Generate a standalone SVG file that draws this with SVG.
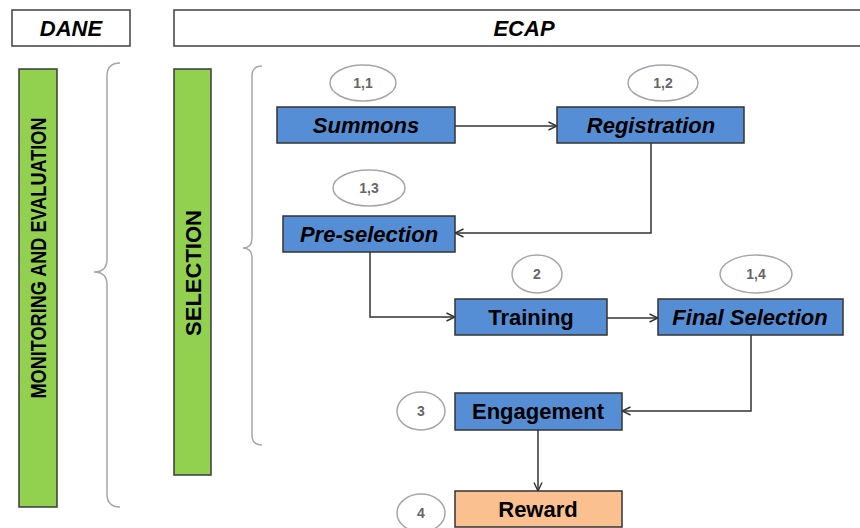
<svg xmlns="http://www.w3.org/2000/svg" width="860" height="528" viewBox="0 0 860 528">
  <style>
    .hdr { fill: #ffffff; stroke: #404040; stroke-width: 1.5; }
    .hdr-t { font-family: "Liberation Sans", Arial, sans-serif; font-size: 22px; font-weight: bold; font-style: italic; fill: #000; text-anchor: middle; }
    .bar { fill: #92d050; stroke: #3a3a3a; stroke-width: 1.5; }
    .bar-t { font-family: "Liberation Sans", Arial, sans-serif; font-size: 22px; font-weight: bold; fill: #000; text-anchor: middle; }
    .brace { fill: none; stroke: #a6a6a6; stroke-width: 1.5; }
    .step { fill: #558ed5; stroke: #333333; stroke-width: 1.5; }
    .reward { fill: #fac090; stroke: #333333; stroke-width: 1.5; }
    .lbl { font-family: "Liberation Sans", Arial, sans-serif; font-size: 22px; font-weight: bold; fill: #000; text-anchor: middle; }
    .it { font-style: italic; }
    .num { fill: #ffffff; stroke: #a6a6a6; stroke-width: 1.5; }
    .num-t { font-family: "Liberation Sans", Arial, sans-serif; font-size: 14px; font-weight: bold; fill: #666666; text-anchor: middle; }
    .edge { fill: none; stroke: #333333; stroke-width: 1.5; marker-end: url(#arr); }
  </style>
  <defs>
    <marker id="arr" viewBox="0 0 10 10" refX="9.5" refY="5" markerWidth="10" markerHeight="10" markerUnits="userSpaceOnUse" orient="auto">
      <polyline points="1,1 9.5,5 1,9" fill="none" stroke="#333333" stroke-width="1.4"/>
    </marker>
  </defs>
  <rect width="860" height="528" fill="#ffffff"/>

  <!-- column headers -->
  <g id="dane">
    <rect class="hdr" x="12" y="10" width="118" height="36"/>
    <text class="hdr-t" x="71" y="36">DANE</text>
  </g>
  <g id="ecap">
    <rect class="hdr" x="174" y="10" width="690" height="36"/>
    <text class="hdr-t" x="524" y="36">ECAP</text>
  </g>

  <!-- phase bars -->
  <g id="monitoring">
    <rect class="bar" x="19" y="69" width="38" height="438"/>
    <text class="bar-t" transform="translate(46,258) rotate(-90)" textLength="281" lengthAdjust="spacingAndGlyphs">MONITORING AND EVALUATION</text>
  </g>
  <g id="selection">
    <rect class="bar" x="174" y="69" width="37" height="406"/>
    <text class="bar-t" transform="translate(201,273) rotate(-90)">SELECTION</text>
  </g>

  <!-- braces -->
  <g id="brace-monitoring">
    <path class="brace" d="M120,63 Q107,63 107,76 L107,259 Q107,272 94,272 Q107,272 107,285 L107,494 Q107,507 120,507"/>
  </g>
  <g id="brace-selection">
    <path class="brace" d="M262,66 Q252,66 252,76 L252,238 Q252,248 243,248 Q252,248 252,258 L252,435 Q252,445 262,445"/>
  </g>

  <!-- connectors -->
  <g id="connectors">
    <path class="edge" d="M455,126 L557,126"/>
    <path class="edge" d="M651,143 L651,233 L455,233"/>
    <path class="edge" d="M370,252 L370,317 L455,317"/>
    <path class="edge" d="M607,318 L658,318"/>
    <path class="edge" d="M751,335 L751,411 L622,411"/>
    <path class="edge" d="M538,430 L538,491"/>
  </g>

  <!-- process steps -->
  <g id="summons">
    <ellipse class="num" cx="363" cy="83" rx="33" ry="18"/>
    <text class="num-t" x="363" y="88">1,1</text>
    <rect class="step" x="277" y="107" width="178" height="36"/>
    <text class="lbl it" x="366" y="133">Summons</text>
  </g>
  <g id="registration">
    <ellipse class="num" cx="663" cy="83" rx="35" ry="18"/>
    <text class="num-t" x="663" y="88">1,2</text>
    <rect class="step" x="557" y="107" width="187" height="36"/>
    <text class="lbl it" x="651" y="133">Registration</text>
  </g>
  <g id="preselection">
    <ellipse class="num" cx="369" cy="188" rx="36" ry="18"/>
    <text class="num-t" x="369" y="193">1,3</text>
    <rect class="step" x="283" y="216" width="172" height="36"/>
    <text class="lbl it" x="369" y="242">Pre-selection</text>
  </g>
  <g id="training">
    <ellipse class="num" cx="537" cy="274" rx="25" ry="19"/>
    <text class="num-t" x="537" y="279">2</text>
    <rect class="step" x="455" y="299" width="152" height="36"/>
    <text class="lbl" x="531" y="325">Training</text>
  </g>
  <g id="final-selection">
    <ellipse class="num" cx="756" cy="274" rx="36" ry="19"/>
    <text class="num-t" x="756" y="279">1,4</text>
    <rect class="step" x="658" y="299" width="185" height="36"/>
    <text class="lbl it" x="750" y="325">Final Selection</text>
  </g>
  <g id="engagement">
    <ellipse class="num" cx="421" cy="411" rx="24" ry="19"/>
    <text class="num-t" x="421" y="416">3</text>
    <rect class="step" x="455" y="393" width="167" height="37"/>
    <text class="lbl" x="538" y="419">Engagement</text>
  </g>
  <g id="reward">
    <ellipse class="num" cx="421" cy="513" rx="24" ry="19"/>
    <text class="num-t" x="421" y="518">4</text>
    <rect class="reward" x="455" y="491" width="167" height="36"/>
    <text class="lbl" x="538" y="517">Reward</text>
  </g>
</svg>
